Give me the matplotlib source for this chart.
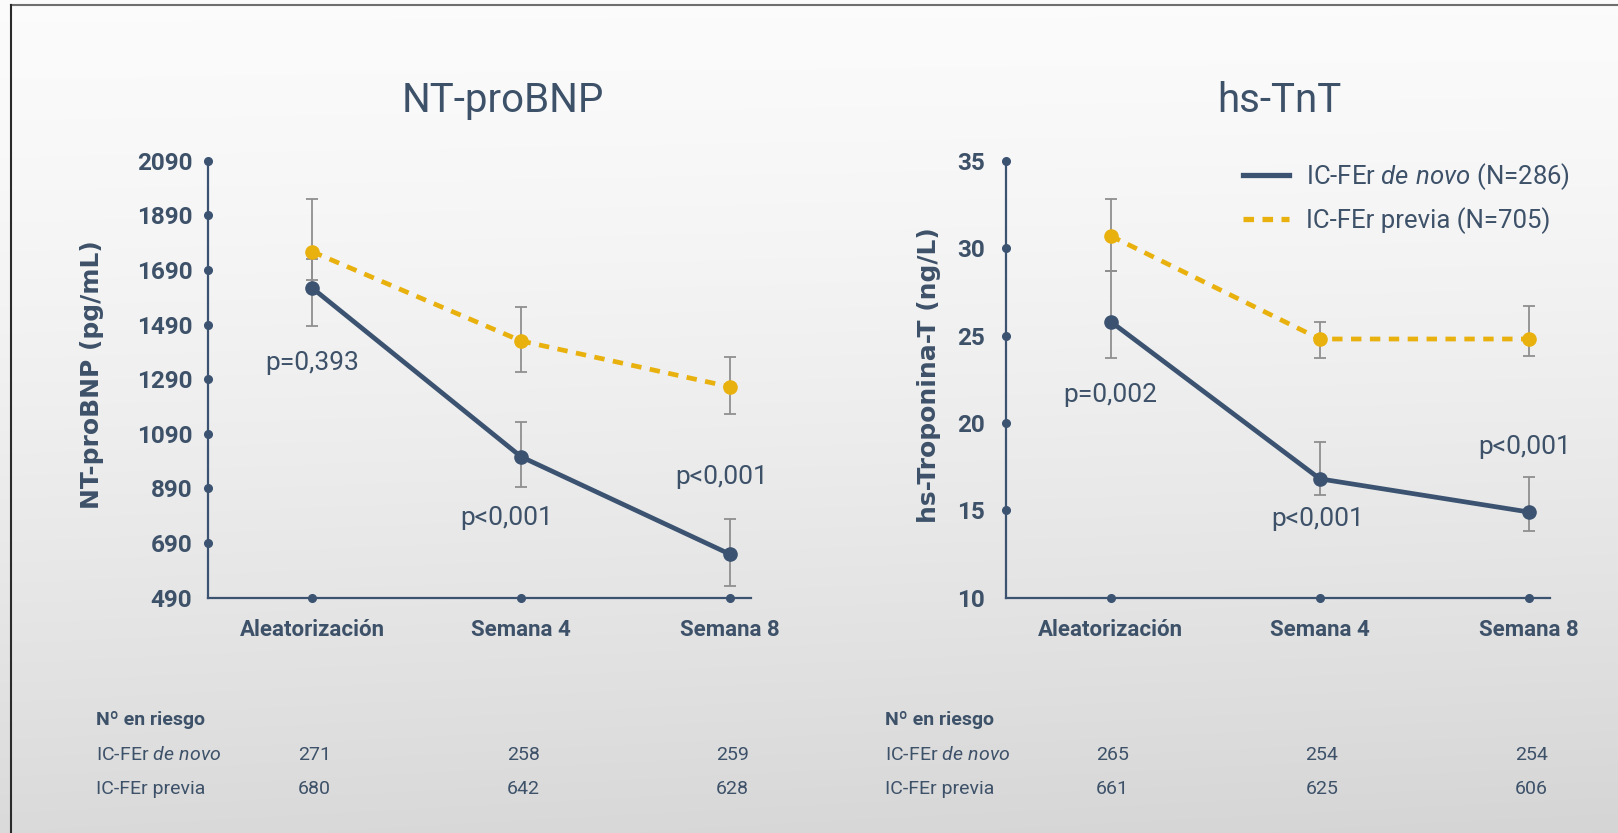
import numpy as np
import matplotlib
matplotlib.use("Agg")
import matplotlib.pyplot as plt
from matplotlib.lines import Line2D
import matplotlib.transforms as mtransforms

plt.rcParams['font.family'] = ['Roboto', 'DejaVu Sans']
plt.rcParams['mathtext.fontset'] = 'custom'
plt.rcParams['mathtext.rm'] = 'Roboto'
plt.rcParams['mathtext.it'] = 'Roboto:italic'

# data
cats = ['Aleatorización', 'Semana 4', 'Semana 8']

bnp_novo = [1624, 1006, 649]
bnp_novo_lo = [1486, 894, 534]
bnp_novo_hi = [1730, 1133, 777]
bnp_previa = [1757, 1430, 1262]
bnp_previa_lo = [1653, 1315, 1161]
bnp_previa_hi = [1950, 1555, 1372]
bnp_ticks = [490, 690, 890, 1090, 1290, 1490, 1690, 1890, 2090]
bnp_p = ['p=0,393', 'p<0,001', 'p<0,001']
bnp_risk_novo = [271, 258, 259]
bnp_risk_previa = [680, 642, 628]

tnt_novo = [25.8, 16.8, 14.9]
tnt_novo_lo = [23.7, 15.9, 13.8]
tnt_novo_hi = [28.7, 18.9, 16.9]
tnt_previa = [30.7, 24.8, 24.8]
tnt_previa_lo = [28.7, 23.7, 23.8]
tnt_previa_hi = [32.8, 25.8, 26.7]
tnt_ticks = [10, 15, 20, 25, 30, 35]
tnt_p = ['p=0,002', 'p<0,001', 'p<0,001']
tnt_risk_novo = [265, 254, 254]
tnt_risk_previa = [661, 625, 606]

navy = '#3b5371'
yellow = '#e9b10e'
txt = '#3d5169'
grey = '#8f8f8f'

W, H = 1618, 833
fig = plt.figure(figsize=(W / 100, H / 100), dpi=100)

# background gradient
bg = fig.add_axes([0, 0, 1, 1], zorder=-10)
yy = np.linspace(0, 1, 200)[:, None]
xx = np.linspace(0, 1, 200)[None, :]
grad = 0.985 - 0.13 * yy ** 1.4 - 0.02 * xx * yy
bg.imshow(np.dstack([grad, grad, grad]), aspect='auto', extent=[0, 1, 0, 1], interpolation='bilinear')
bg.set_axis_off()

# frame lines of the screenshot
fig.add_artist(Line2D([11 / W, 1], [1 - 5 / H, 1 - 5 / H], color='#6e6e6e', lw=1.5))
fig.add_artist(Line2D([11 / W, 11 / W], [0, 1 - 5 / H], color='#2a2a2a', lw=1.5))


def panel(rect, novo, novo_lo, novo_hi, prev, prev_lo, prev_hi, ticks, ylabel,
          pvals, p_xy, ylabel_x, tick_pad):
    ax = fig.add_axes(rect)
    ax.patch.set_alpha(0)
    x = np.arange(len(cats))
    ax.plot(x, novo, color=navy, lw=3.4, solid_capstyle='round', zorder=2)
    ax.plot(x, prev, color=yellow, lw=3.4, dashes=(2.2, 1.8), zorder=2)
    for v, lo, hi in ((novo, novo_lo, novo_hi), (prev, prev_lo, prev_hi)):
        v = np.array(v)
        err = [v - np.array(lo), np.array(hi) - v]
        ax.errorbar(x, v, yerr=err, fmt='none', ecolor=grey, elinewidth=1.3,
                    capsize=4, capthick=1.3, zorder=3)
    ax.plot(x, novo, 'o', color=navy, ms=9.5, zorder=4)
    ax.plot(x, prev, 'o', color=yellow, ms=9.5, zorder=4)

    ax.set_xlim(-0.5, 2.1)
    ax.set_ylim(ticks[0], ticks[-1])
    ax.set_yticks(ticks)
    ax.set_xticks(x)
    ax.set_xticklabels(cats, fontsize=16, fontweight='bold', color=txt)
    ax.set_yticklabels([str(t) for t in ticks], fontsize=17.5, fontweight='bold', color=txt)
    ax.tick_params(axis='both', length=0)
    ax.tick_params(axis='y', pad=tick_pad)
    ax.tick_params(axis='x', pad=15)
    for s in ('top', 'right'):
        ax.spines[s].set_visible(False)
    for s in ('left', 'bottom'):
        ax.spines[s].set_color(navy)
        ax.spines[s].set_linewidth(1.6)
    # dots on the axes at each tick
    ax.plot(np.full(len(ticks) - 1, -0.5), ticks[1:], 'o', color=navy, ms=5.5,
            clip_on=False, zorder=5)
    ax.plot(x, np.full(len(x), ticks[0]), 'o', color=navy, ms=5.5, clip_on=False, zorder=5)

    ax.set_ylabel(ylabel, fontsize=18, fontweight='bold', color=txt, family='DejaVu Sans')
    ax.yaxis.set_label_coords(ylabel_x, 0.51)

    for s, (px, py) in zip(pvals, p_xy):
        ax.text(px, py, s, fontsize=19, color=txt, ha='center', va='center')
    return ax


ax1 = panel([207.7 / W, 1 - 597.7 / H, 543.3 / W, 437 / H],
            bnp_novo, bnp_novo_lo, bnp_novo_hi, bnp_previa, bnp_previa_lo, bnp_previa_hi,
            bnp_ticks, 'NT-proBNP (pg/mL)', bnp_p,
            [(0, 1349), (0.93, 782), (1.96, 932)], -0.19, 11)
ax2 = panel([1006 / W, 1 - 597.7 / H, 544 / W, 437 / H],
            tnt_novo, tnt_novo_lo, tnt_novo_hi, tnt_previa, tnt_previa_lo, tnt_previa_hi,
            tnt_ticks, 'hs-Troponina-T (ng/L)', tnt_p,
            [(0, 21.6), (0.99, 14.5), (1.98, 18.6)], -0.12, 15)

fig.text(503 / W, 1 - 100 / H, 'NT-proBNP', fontsize=29, color=txt, ha='center', va='center')
fig.text(1279 / W, 1 - 100 / H, 'hs-TnT', fontsize=29, color=txt, ha='center', va='center')

# legend
handles = [Line2D([], [], color=navy, lw=3.8),
           Line2D([], [], color=yellow, lw=3.8, dashes=(2.0, 1.6))]
labels = [r'IC-FEr $de\ novo$ (N=286)', 'IC-FEr previa (N=705)']
fig.legend(handles, labels, loc='upper left', bbox_to_anchor=(1243 / W, 1 - 161 / H),
           frameon=False, fontsize=18.5, handlelength=1.8, handletextpad=0.65,
           labelspacing=0.6, borderpad=0, borderaxespad=0, labelcolor=txt)

# numbers at risk
for ax, lab_x, rn, rp in ((ax1, 96, bnp_risk_novo, bnp_risk_previa),
                          (ax2, 885, tnt_risk_novo, tnt_risk_previa)):
    tr = mtransforms.blended_transform_factory(ax.transData, fig.transFigure)
    fig.text(lab_x / W, 1 - 720 / H, 'Nº en riesgo', fontsize=14, fontweight='bold',
             color=txt, va='center')
    fig.text(lab_x / W, 1 - 755 / H, r'IC-FEr $de\ novo$', fontsize=14, color=txt, va='center')
    fig.text(lab_x / W, 1 - 789 / H, 'IC-FEr previa', fontsize=14, color=txt, va='center')
    for i in range(len(cats)):
        ax.text(i + 0.01, 1 - 755 / H, str(rn[i]), transform=tr, fontsize=14, color=txt,
                ha='center', va='center')
        ax.text(i + 0.01, 1 - 789 / H, str(rp[i]), transform=tr, fontsize=14, color=txt,
                ha='center', va='center')

fig.savefig('out.png', dpi=100)
